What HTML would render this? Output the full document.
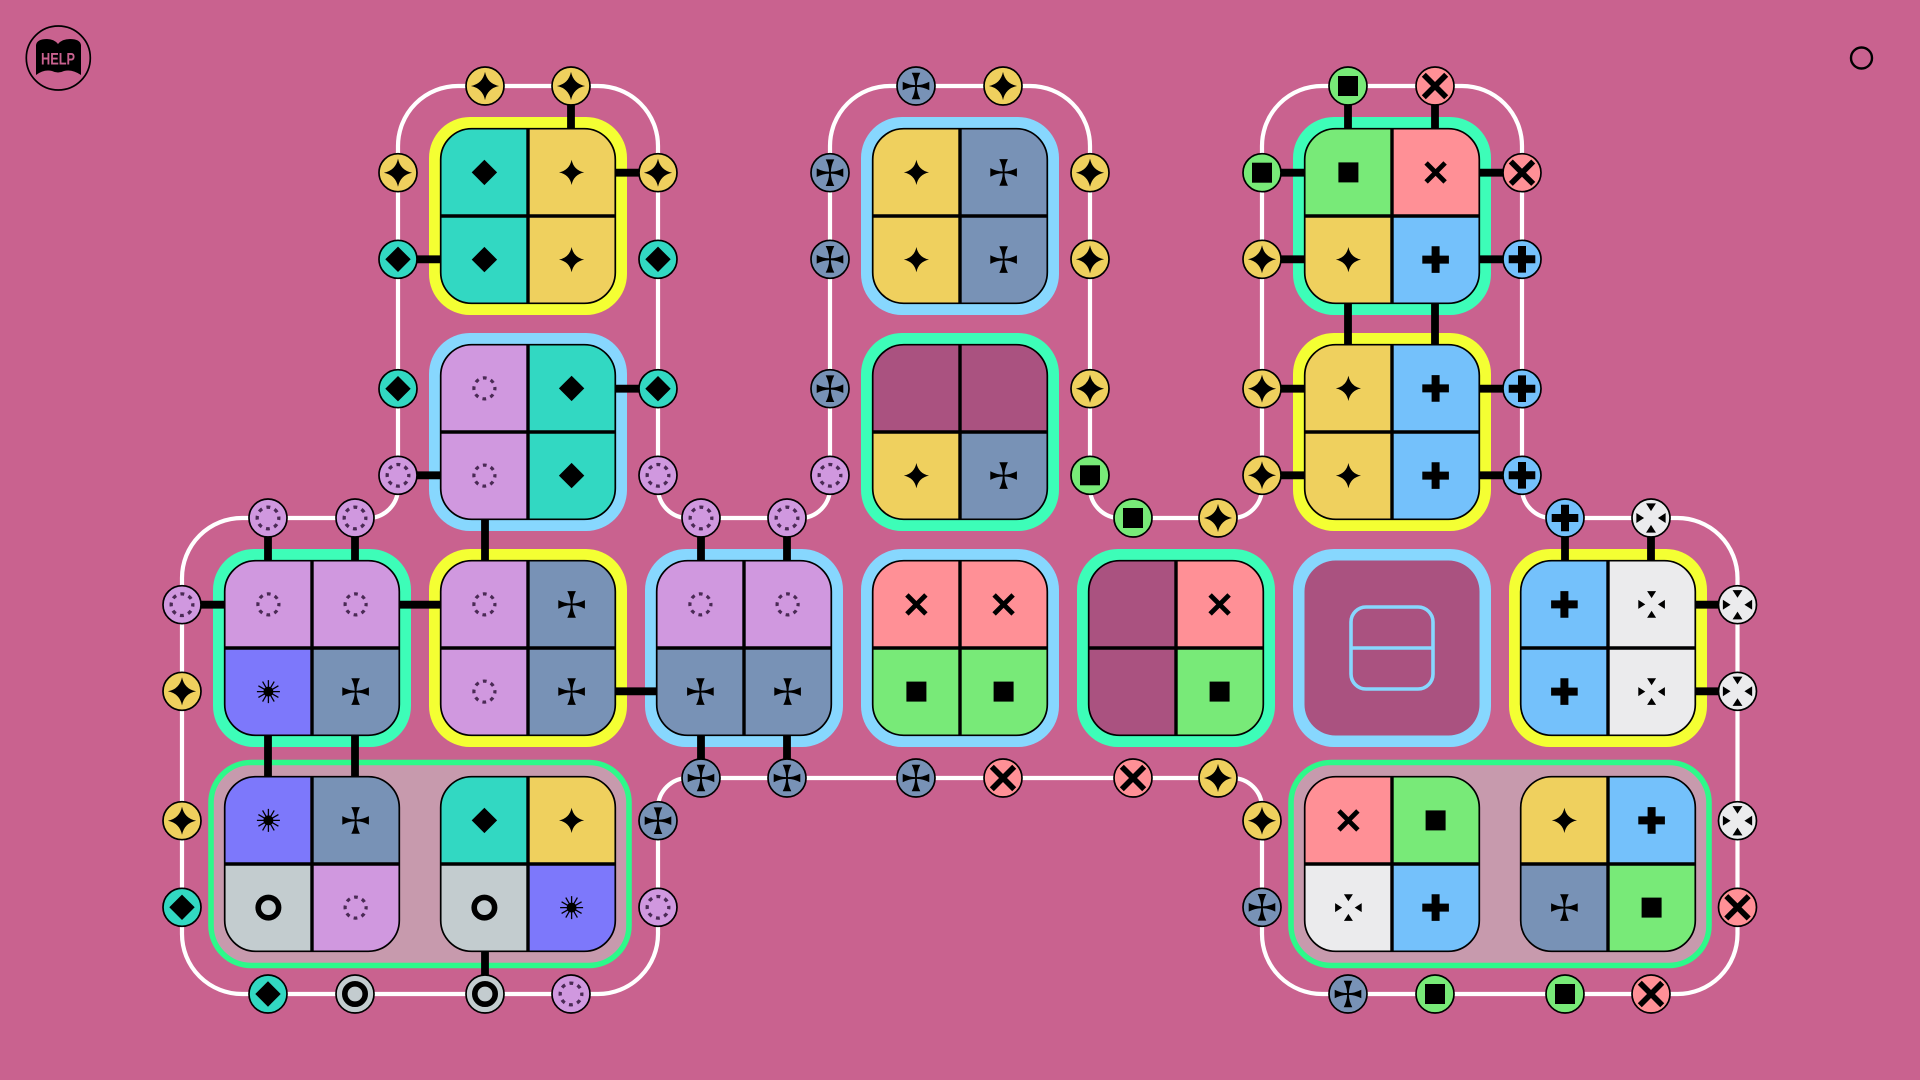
<!DOCTYPE html>
<html><head><meta charset="utf-8"><title>Diagram</title>
<style>
html,body{margin:0;padding:0;background:#c9628f;width:1920px;height:1080px;overflow:hidden}
svg{display:block}
.o{fill:none;stroke:#000;stroke-width:1.7}
.k{stroke:#000;stroke-width:7.8;fill:none}
</style></head><body>
<svg width="1920" height="1080" viewBox="0 0 1920 1080" xmlns="http://www.w3.org/2000/svg">
<defs>
<clipPath id="clip"><rect x="-87.3" y="-87.3" width="174.6" height="174.6" rx="31"/></clipPath>
<g id="is"><path d="M0-12.6Q2.1-2.1 12.6 0Q2.1 2.1 0 12.6Q-2.1 2.1-12.6 0Q-2.1-2.1 0-12.6z"/></g>
<g id="id"><path d="M0-12.7L12.7 0L0 12.7L-12.7 0z"/></g>
<g id="im"><rect x="-10" y="-10" width="20" height="20"/></g>
<g id="ix"><path d="M-9.5-9.5L9.5 9.5M9.5-9.5L-9.5 9.5" stroke="#000" stroke-width="4.8" fill="none"/></g>
<g id="ip"><path d="M-13.3 0H13.3M0-13.3V13.3" stroke="#000" stroke-width="8" fill="none"/></g>
<g id="if"><path d="M-4.3-13.3H4.3Q1-7 .9-.9Q7-1 13.3-4.3V4.3Q7 1 .9.9Q1 7 4.3 13.3H-4.3Q-1 7-.9.9Q-7 1-13.3 4.3V-4.3Q-7-1-.9-.9Q-1-7-4.3-13.3z"/></g>
<g id="it"><path d="M-4.5-13.3H4.5L0-6.3zM-4.5 13.3H4.5L0 6.3zM-13.3-4.5V4.5L-6.3 0zM13.3-4.5V4.5L6.3 0z"/></g>
<g id="ic"><circle r="10.5" fill="none" stroke="#4a2a55" stroke-width="3.2" stroke-dasharray="3.8 4.45" stroke-dashoffset="1.9"/></g>
<g id="io"><circle r="10.2" fill="none" stroke="#000" stroke-width="5.6"/></g>
<g id="ia"><circle r="5"/><path d="M-11.5 0H11.5M0-11.5V11.5M-10-5.8L10 5.8M-5.8-10L5.8 10M-10 5.8L10-5.8M-5.8 10L5.8-10" stroke="#000" stroke-width="1.3"/></g>

<g id="cs"><rect x="-44" y="-44" width="88" height="88" fill="#efd05e"/><use href="#is"/></g>
<g id="cd"><rect x="-44" y="-44" width="88" height="88" fill="#32d8c2"/><use href="#id"/></g>
<g id="cm"><rect x="-44" y="-44" width="88" height="88" fill="#78ea78"/><use href="#im"/></g>
<g id="cx"><rect x="-44" y="-44" width="88" height="88" fill="#ff9096"/><use href="#ix"/></g>
<g id="cp"><rect x="-44" y="-44" width="88" height="88" fill="#74c1fb"/><use href="#ip"/></g>
<g id="cf"><rect x="-44" y="-44" width="88" height="88" fill="#7892b6"/><use href="#if"/></g>
<g id="ct"><rect x="-44" y="-44" width="88" height="88" fill="#ebebed"/><use href="#it"/></g>
<g id="cc"><rect x="-44" y="-44" width="88" height="88" fill="#d098df"/><use href="#ic"/></g>
<g id="co"><rect x="-44" y="-44" width="88" height="88" fill="#c3cccf"/><use href="#io"/></g>
<g id="ca"><rect x="-44" y="-44" width="88" height="88" fill="#7d78fb"/><use href="#ia"/></g>
<g id="ce"><rect x="-44" y="-44" width="88" height="88" fill="#aa5280"/></g>
<g id="grid"><path d="M0-87.3V87.3M-87.3 0H87.3" stroke="#000" stroke-width="3.4"/><rect x="-87.3" y="-87.3" width="174.6" height="174.6" rx="31" fill="none" stroke="#000" stroke-width="1.7"/></g>

<g id="ps"><circle r="19" fill="#efd05e" stroke="#000" stroke-width="1.7"/><use href="#is" transform="scale(1.12)"/></g>
<g id="pd"><circle r="19" fill="#32d8c2" stroke="#000" stroke-width="1.7"/><use href="#id"/></g>
<g id="pm"><circle r="19" fill="#78ea78" stroke="#000" stroke-width="1.7"/><use href="#im"/></g>
<g id="px"><circle r="19" fill="#ff9096" stroke="#000" stroke-width="1.7"/><use href="#ix" transform="scale(1.18)"/></g>
<g id="pp"><circle r="19" fill="#74c1fb" stroke="#000" stroke-width="1.7"/><use href="#ip"/></g>
<g id="pf"><circle r="19" fill="#7892b6" stroke="#000" stroke-width="1.7"/><use href="#if"/></g>
<g id="pt"><circle r="19" fill="#ebebed" stroke="#000" stroke-width="1.7"/><use href="#it" transform="scale(1.1)"/></g>
<g id="pc"><circle r="19" fill="#d098df" stroke="#000" stroke-width="1.7"/><use href="#ic" transform="scale(1.03)"/></g>
<g id="po"><circle r="19" fill="#c3cccf" stroke="#000" stroke-width="1.7"/><use href="#io"/></g>
</defs>

<rect width="1920" height="1080" fill="#c9628f"/>

<!-- help -->
<circle cx="58.3" cy="58" r="32" class="o"/>
<path d="M36 45Q37 39 47 39Q54 39 58 44Q62 39 70 39Q80 39 81 45V75Q72 69 64 71Q58 74 52 71Q44 69 36 75z" fill="#000"/>
<text x="41" y="64.5" font-family="'Liberation Sans',sans-serif" font-size="17" font-weight="bold" fill="#c9628f" textLength="34" lengthAdjust="spacingAndGlyphs">HELP</text>
<circle cx="1861.5" cy="58" r="10.5" fill="none" stroke="#000" stroke-width="2.4"/>

<!-- track -->
<path d="M398 146A60 60 0 0 1 458 86H598A60 60 0 0 1 658 146V488A30 30 0 0 0 688 518H800A30 30 0 0 0 830 488V146A60 60 0 0 1 890 86H1030A60 60 0 0 1 1090 146V488A30 30 0 0 0 1120 518H1232A30 30 0 0 0 1262 488V146A60 60 0 0 1 1322 86H1462A60 60 0 0 1 1522 146V488A30 30 0 0 0 1552 518H1677A60 60 0 0 1 1737.5 578V934A60 60 0 0 1 1677 994H1322A60 60 0 0 1 1262 934V808A30 30 0 0 0 1232 778H688A30 30 0 0 0 658 808V934A60 60 0 0 1 598 994H242A60 60 0 0 1 182 934V578A60 60 0 0 1 242 518H368A30 30 0 0 0 398 488Z" fill="none" stroke="#fff" stroke-width="4.2"/>

<!-- group backgrounds -->
<rect x="211" y="762.5" width="418" height="203" rx="40" fill="#c79aad" stroke="#2df98a" stroke-width="5.6"/>
<rect x="1291" y="762.5" width="418" height="203" rx="40" fill="#c79aad" stroke="#2df98a" stroke-width="5.6"/>

<!-- tile borders -->
<g fill="#f4ff33">
<rect x="429" y="117" width="198" height="198" rx="41"/>
<rect x="1293" y="333" width="198" height="198" rx="41"/>
<rect x="429" y="549" width="198" height="198" rx="41"/>
<rect x="1509" y="549" width="198" height="198" rx="41"/>
</g>
<g fill="#87d7fe">
<rect x="861" y="117" width="198" height="198" rx="41"/>
<rect x="429" y="333" width="198" height="198" rx="41"/>
<rect x="645" y="549" width="198" height="198" rx="41"/>
<rect x="861" y="549" width="198" height="198" rx="41"/>
<rect x="1293" y="549" width="198" height="198" rx="41"/>
</g>
<g fill="#3dfdb8">
<rect x="1293" y="117" width="198" height="198" rx="41"/>
<rect x="861" y="333" width="198" height="198" rx="41"/>
<rect x="213" y="549" width="198" height="198" rx="41"/>
<rect x="1077" y="549" width="198" height="198" rx="41"/>
</g>

<!-- connectors -->
<g class="k">
<path d="M571 86V130M485 475V562"/>
<path d="M398 259.3H442M658 172.7H614M658 388.7H614M398 475.3H442"/>
<path d="M1348 86V130M1435 86V130M1262 172.7H1306M1262 259.3H1306M1522 172.7H1478M1522 259.3H1478M1348 302V346M1435 302V346"/>
<path d="M1262 388.7H1306M1262 475.3H1306M1522 388.7H1478M1522 475.3H1478"/>
<path d="M268 518V562M355 518V562M701 518V562M787 518V562M1565 518V562M1651 518V562"/>
<path d="M182 604.7H226M398 604.7H442M614 691.3H658M1694 604.7H1737M1694 691.3H1737"/>
<path d="M268 734V778M355 734V778M701 734V778M787 734V778M485 950V994"/>
</g>

<!-- tiles -->
<g transform="translate(528 216)"><g clip-path="url(#clip)"><use href="#cd" x="-43.6" y="-43.6"/><use href="#cs" x="43.6" y="-43.6"/><use href="#cd" x="-43.6" y="43.6"/><use href="#cs" x="43.6" y="43.6"/></g><use href="#grid"/></g>
<g transform="translate(960 216)"><g clip-path="url(#clip)"><use href="#cs" x="-43.6" y="-43.6"/><use href="#cf" x="43.6" y="-43.6"/><use href="#cs" x="-43.6" y="43.6"/><use href="#cf" x="43.6" y="43.6"/></g><use href="#grid"/></g>
<g transform="translate(1392 216)"><g clip-path="url(#clip)"><use href="#cm" x="-43.6" y="-43.6"/><use href="#cx" x="43.6" y="-43.6"/><use href="#cs" x="-43.6" y="43.6"/><use href="#cp" x="43.6" y="43.6"/></g><use href="#grid"/></g>

<g transform="translate(528 432)"><g clip-path="url(#clip)"><use href="#cc" x="-43.6" y="-43.6"/><use href="#cd" x="43.6" y="-43.6"/><use href="#cc" x="-43.6" y="43.6"/><use href="#cd" x="43.6" y="43.6"/></g><use href="#grid"/></g>
<g transform="translate(960 432)"><g clip-path="url(#clip)"><use href="#ce" x="-43.6" y="-43.6"/><use href="#ce" x="43.6" y="-43.6"/><use href="#cs" x="-43.6" y="43.6"/><use href="#cf" x="43.6" y="43.6"/></g><use href="#grid"/></g>
<g transform="translate(1392 432)"><g clip-path="url(#clip)"><use href="#cs" x="-43.6" y="-43.6"/><use href="#cp" x="43.6" y="-43.6"/><use href="#cs" x="-43.6" y="43.6"/><use href="#cp" x="43.6" y="43.6"/></g><use href="#grid"/></g>

<g transform="translate(312 648)"><g clip-path="url(#clip)"><use href="#cc" x="-43.6" y="-43.6"/><use href="#cc" x="43.6" y="-43.6"/><use href="#ca" x="-43.6" y="43.6"/><use href="#cf" x="43.6" y="43.6"/></g><use href="#grid"/></g>
<g transform="translate(528 648)"><g clip-path="url(#clip)"><use href="#cc" x="-43.6" y="-43.6"/><use href="#cf" x="43.6" y="-43.6"/><use href="#cc" x="-43.6" y="43.6"/><use href="#cf" x="43.6" y="43.6"/></g><use href="#grid"/></g>
<g transform="translate(744 648)"><g clip-path="url(#clip)"><use href="#cc" x="-43.6" y="-43.6"/><use href="#cc" x="43.6" y="-43.6"/><use href="#cf" x="-43.6" y="43.6"/><use href="#cf" x="43.6" y="43.6"/></g><use href="#grid"/></g>
<g transform="translate(960 648)"><g clip-path="url(#clip)"><use href="#cx" x="-43.6" y="-43.6"/><use href="#cx" x="43.6" y="-43.6"/><use href="#cm" x="-43.6" y="43.6"/><use href="#cm" x="43.6" y="43.6"/></g><use href="#grid"/></g>
<g transform="translate(1176 648)"><g clip-path="url(#clip)"><use href="#ce" x="-43.6" y="-43.6"/><use href="#cx" x="43.6" y="-43.6"/><use href="#ce" x="-43.6" y="43.6"/><use href="#cm" x="43.6" y="43.6"/></g><use href="#grid"/></g>
<g transform="translate(1392 648)"><rect x="-87.5" y="-87.5" width="175" height="175" rx="31" fill="#aa5280"/><rect x="-41" y="-41" width="82" height="82" rx="15" fill="none" stroke="#87d7fe" stroke-width="3.6"/><path d="M-41 0H41" stroke="#87d7fe" stroke-width="3.6"/></g>
<g transform="translate(1608 648)"><g clip-path="url(#clip)"><use href="#cp" x="-43.6" y="-43.6"/><use href="#ct" x="43.6" y="-43.6"/><use href="#cp" x="-43.6" y="43.6"/><use href="#ct" x="43.6" y="43.6"/></g><use href="#grid"/></g>

<g transform="translate(312 864)"><g clip-path="url(#clip)"><use href="#ca" x="-43.6" y="-43.6"/><use href="#cf" x="43.6" y="-43.6"/><use href="#co" x="-43.6" y="43.6"/><use href="#cc" x="43.6" y="43.6"/></g><use href="#grid"/></g>
<g transform="translate(528 864)"><g clip-path="url(#clip)"><use href="#cd" x="-43.6" y="-43.6"/><use href="#cs" x="43.6" y="-43.6"/><use href="#co" x="-43.6" y="43.6"/><use href="#ca" x="43.6" y="43.6"/></g><use href="#grid"/></g>
<g transform="translate(1392 864)"><g clip-path="url(#clip)"><use href="#cx" x="-43.6" y="-43.6"/><use href="#cm" x="43.6" y="-43.6"/><use href="#ct" x="-43.6" y="43.6"/><use href="#cp" x="43.6" y="43.6"/></g><use href="#grid"/></g>
<g transform="translate(1608 864)"><g clip-path="url(#clip)"><use href="#cs" x="-43.6" y="-43.6"/><use href="#cp" x="43.6" y="-43.6"/><use href="#cf" x="-43.6" y="43.6"/><use href="#cm" x="43.6" y="43.6"/></g><use href="#grid"/></g>

<!-- ports -->
<use href="#ps" x="485" y="86"/><use href="#ps" x="571" y="86"/>
<use href="#pf" x="916" y="86"/><use href="#ps" x="1003" y="86"/>
<use href="#pm" x="1348" y="86"/><use href="#px" x="1435" y="86"/>

<use href="#ps" x="398" y="172.7"/><use href="#pd" x="398" y="259.3"/><use href="#pd" x="398" y="388.7"/><use href="#pc" x="398" y="475.3"/>
<use href="#ps" x="658" y="172.7"/><use href="#pd" x="658" y="259.3"/><use href="#pd" x="658" y="388.7"/><use href="#pc" x="658" y="475.3"/>
<use href="#pf" x="830" y="172.7"/><use href="#pf" x="830" y="259.3"/><use href="#pf" x="830" y="388.7"/><use href="#pc" x="830" y="475.3"/>
<use href="#ps" x="1090" y="172.7"/><use href="#ps" x="1090" y="259.3"/><use href="#ps" x="1090" y="388.7"/><use href="#pm" x="1090" y="475.3"/>
<use href="#pm" x="1262" y="172.7"/><use href="#ps" x="1262" y="259.3"/><use href="#ps" x="1262" y="388.7"/><use href="#ps" x="1262" y="475.3"/>
<use href="#px" x="1522" y="172.7"/><use href="#pp" x="1522" y="259.3"/><use href="#pp" x="1522" y="388.7"/><use href="#pp" x="1522" y="475.3"/>

<use href="#pc" x="268" y="518"/><use href="#pc" x="355" y="518"/>
<use href="#pc" x="701" y="518"/><use href="#pc" x="787" y="518"/>
<use href="#pm" x="1133" y="518"/><use href="#ps" x="1218" y="518"/>
<use href="#pp" x="1565" y="518"/><use href="#pt" x="1651" y="518"/>

<use href="#pc" x="182" y="604.7"/><use href="#ps" x="182" y="691.3"/><use href="#ps" x="182" y="820.7"/><use href="#pd" x="182" y="907.3"/>
<use href="#pt" x="1737.5" y="604.7"/><use href="#pt" x="1737.5" y="691.3"/><use href="#pt" x="1737.5" y="820.7"/><use href="#px" x="1737.5" y="907.3"/>

<use href="#pf" x="701" y="778"/><use href="#pf" x="787" y="778"/><use href="#pf" x="916" y="778"/><use href="#px" x="1003" y="778"/><use href="#px" x="1133" y="778"/><use href="#ps" x="1218" y="778"/>
<use href="#pf" x="658" y="820.7"/><use href="#pc" x="658" y="907.3"/>
<use href="#ps" x="1262" y="820.7"/><use href="#pf" x="1262" y="907.3"/>

<use href="#pd" x="268" y="994"/><use href="#po" x="355" y="994"/><use href="#po" x="485" y="994"/><use href="#pc" x="571" y="994"/>
<use href="#pf" x="1348" y="994"/><use href="#pm" x="1435" y="994"/><use href="#pm" x="1565" y="994"/><use href="#px" x="1651" y="994"/>
</svg>
</body></html>
